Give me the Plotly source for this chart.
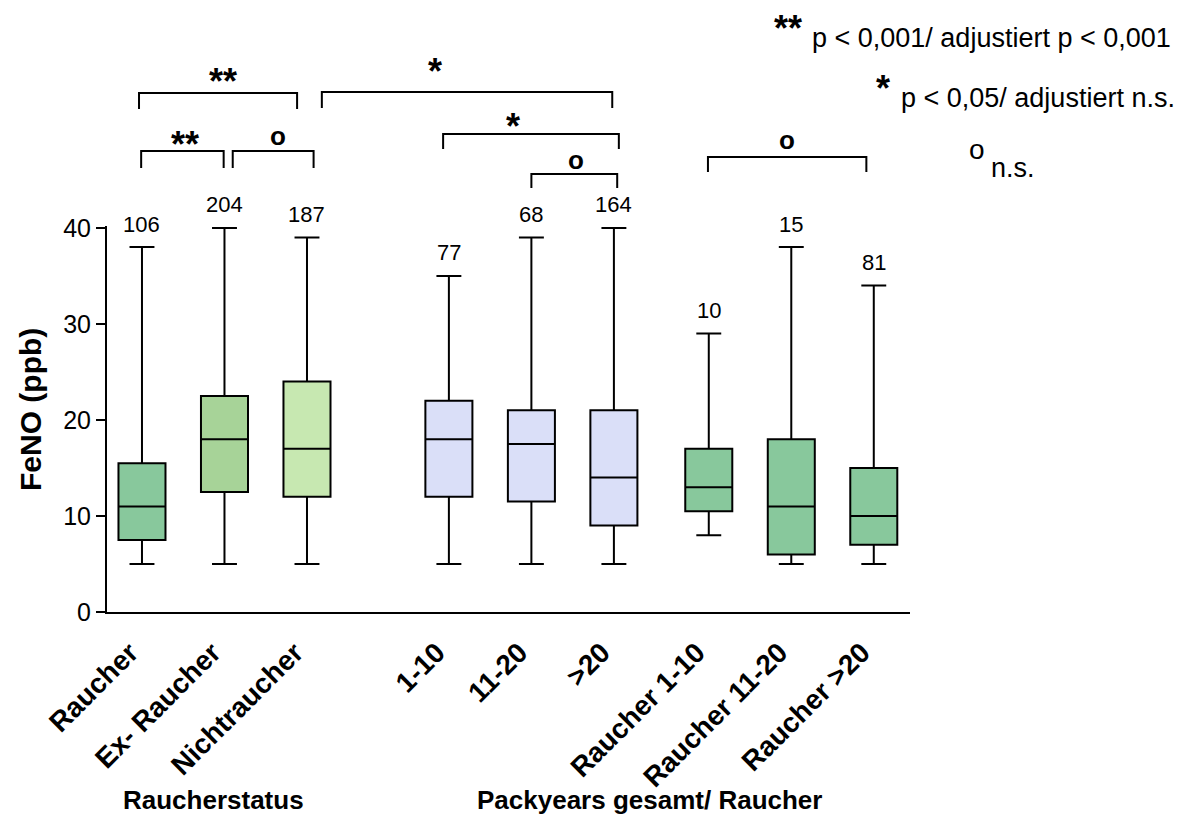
import plotly.graph_objects as go

# ---------------- data ----------------
categories = ["Raucher", "Ex- Raucher", "Nichtraucher",
              "1-10", "11-20", ">20",
              "Raucher 1-10", "Raucher 11-20", "Raucher >20"]
lower_fence = [5, 5, 5, 5, 5, 5, 8, 5, 5]
q1_values = [7.5, 12.5, 12, 12, 11.5, 9, 10.5, 6, 7]
median_values = [11, 18, 17, 18, 17.5, 14, 13, 11, 10]
q3_values = [15.5, 22.5, 24, 22, 21, 21, 17, 18, 15]
upper_fence = [38, 40, 39, 35, 39, 40, 29, 38, 34]
n_labels = ["106", "204", "187", "77", "68", "164", "10", "15", "81"]
group_titles = ["Raucherstatus", "Packyears gesamt/ Raucher"]
y_ticks = [0, 10, 20, 30, 40]
legend_lines = [("**", "p &lt; 0,001/ adjustiert p &lt; 0,001"),
                ("*", "p &lt; 0,05/ adjustiert n.s."),
                ("o", "n.s.")]

# ---------------- layout / style ----------------
FONT = "Liberation Sans, Arial, Helvetica, sans-serif"
fill_colors = ["#88c89c", "#a7d398", "#c7e8b1",
               "#dadff8", "#dadff8", "#dadff8",
               "#88c89c", "#88c89c", "#88c89c"]
group_starts = [0.0, 3.72, 6.87]
positions = [g + i for g in group_starts for i in range(3)]

PAGE_OFF = 8  # default body margin of the html page
W, H = 1187 - PAGE_OFF, 823 - PAGE_OFF
ML, MT, MB = 107 - PAGE_OFF, 226 - PAGE_OFF, 211
PLOT_W = 803
MR = W - ML - PLOT_W
X_RANGE = [-0.424, 9.309]
PLOT_H = H - MT - MB


def px2paper(px):
    # px: pixel position on the page screenshot
    return (px - PAGE_OFF - ML) / PLOT_W


def py2paper(py):
    return (H - MB - (py - PAGE_OFF)) / PLOT_H


fig = go.Figure()
for i, cat in enumerate(categories):
    fig.add_trace(go.Box(
        x=[positions[i]], q1=[q1_values[i]], median=[median_values[i]],
        q3=[q3_values[i]], lowerfence=[lower_fence[i]], upperfence=[upper_fence[i]],
        width=0.57, whiskerwidth=0.53, fillcolor=fill_colors[i],
        line=dict(color="black", width=2), boxpoints=False,
        name=cat, showlegend=False, hoverinfo="skip"))

annotations = []
shapes = []

# n labels above whiskers
for i, n in enumerate(n_labels):
    annotations.append(dict(x=positions[i], y=upper_fence[i], xref="x", yref="y",
                            text=n, showarrow=False, yanchor="middle", yshift=23,
                            font=dict(family=FONT, size=22, color="black")))

# significance brackets: (x0, x1, line y px, leg length px, label, label x, label y px)
brackets = [
    (-0.036, 1.88, 93, 16, "**", 0.98, 74),
    (2.18, 5.70, 92, 16, "*", 3.55, 63),
    (-0.01, 0.99, 151, 17, "**", 0.52, 136),
    (1.10, 2.08, 151, 17, "o", 1.65, 139),
    (3.65, 5.78, 134, 15, "*", 4.50, 119),
    (4.72, 5.76, 174, 14, "o", 5.26, 163),
    (6.86, 8.78, 157, 15, "o", 7.82, 143),
]
for x0, x1, yl, leg, lab, lx, ly in brackets:
    yl_p = py2paper(yl)
    yb_p = py2paper(yl + leg)
    shapes.append(dict(type="path", xref="x", yref="paper",
                       path=f"M {x0},{yb_p} L {x0},{yl_p} L {x1},{yl_p} L {x1},{yb_p}",
                       line=dict(color="black", width=2)))
    if lab == "o":
        annotations.append(dict(x=lx, y=py2paper(ly), xref="x", yref="paper", text="<b>o</b>",
                                showarrow=False, xanchor="center", yanchor="middle", yshift=3,
                                font=dict(family=FONT, size=26, color="black")))
    else:
        annotations.append(dict(x=lx, y=py2paper(ly), xref="x", yref="paper", text=f"<b>{lab}</b>",
                                showarrow=False, xanchor="center", yanchor="middle", yshift=-8,
                                font=dict(family=FONT, size=36, color="black")))

# legend (top right)
legend_pos = [  # (symbol x px, symbol y px, text right px, text y px)
    (788, 20, 1173, 38),
    (883, 80, 1177, 98),
    (977, 152, 1037, 168),
]
for (sym, txt), (sx, sy, tx, ty) in zip(legend_lines, legend_pos):
    if sym == "o":
        annotations.append(dict(x=px2paper(sx), y=py2paper(sy), xref="paper", yref="paper",
                                text="o", showarrow=False, xanchor="center", yanchor="middle",
                                yshift=3, font=dict(family=FONT, size=28, color="black")))
    else:
        annotations.append(dict(x=px2paper(sx), y=py2paper(sy), xref="paper", yref="paper",
                                text=f"<b>{sym}</b>", showarrow=False, xanchor="center",
                                yanchor="middle", yshift=-8,
                                font=dict(family=FONT, size=36, color="black")))
    annotations.append(dict(x=px2paper(tx), y=py2paper(ty), xref="paper", yref="paper",
                            text=txt, showarrow=False, xanchor="right", yanchor="middle",
                            font=dict(family=FONT, size=27, color="black")))

# y axis title
annotations.append(dict(x=px2paper(30), y=py2paper(410), xref="paper", yref="paper",
                        text="<b>FeNO (ppb)</b>", textangle=-90, showarrow=False,
                        xanchor="center", yanchor="middle",
                        font=dict(family=FONT, size=30, color="black")))

# group titles
group_centers = [0.87, 6.15]
for gt, gc in zip(group_titles, group_centers):
    annotations.append(dict(x=gc, y=py2paper(800), xref="x", yref="paper",
                            text=f"<b>{gt}</b>", showarrow=False,
                            xanchor="center", yanchor="middle",
                            font=dict(family=FONT, size=26, color="black")))

fig.update_layout(
    width=W, height=H,
    margin=dict(l=ML, r=MR, t=MT, b=MB, autoexpand=False),
    plot_bgcolor="white", paper_bgcolor="white",
    annotations=annotations, shapes=shapes,
    xaxis=dict(range=X_RANGE, tickmode="array", tickvals=positions,
               ticktext=[f"<b>{c}</b>" for c in categories], tickangle=-45,
               ticks="", showline=True, linecolor="black", linewidth=2,
               showgrid=False, zeroline=False,
               ticklabelshift=-12, ticklabelstandoff=11,
               tickfont=dict(family=FONT, size=28, color="black")),
    yaxis=dict(range=[0, 40.2], tickmode="array", tickvals=y_ticks,
               ticks="outside", ticklen=9, tickwidth=2, tickcolor="black",
               showline=True, linecolor="black", linewidth=2,
               showgrid=False, zeroline=False,
               tickfont=dict(family=FONT, size=25, color="black")),
)

fig.write_html("out.html")
